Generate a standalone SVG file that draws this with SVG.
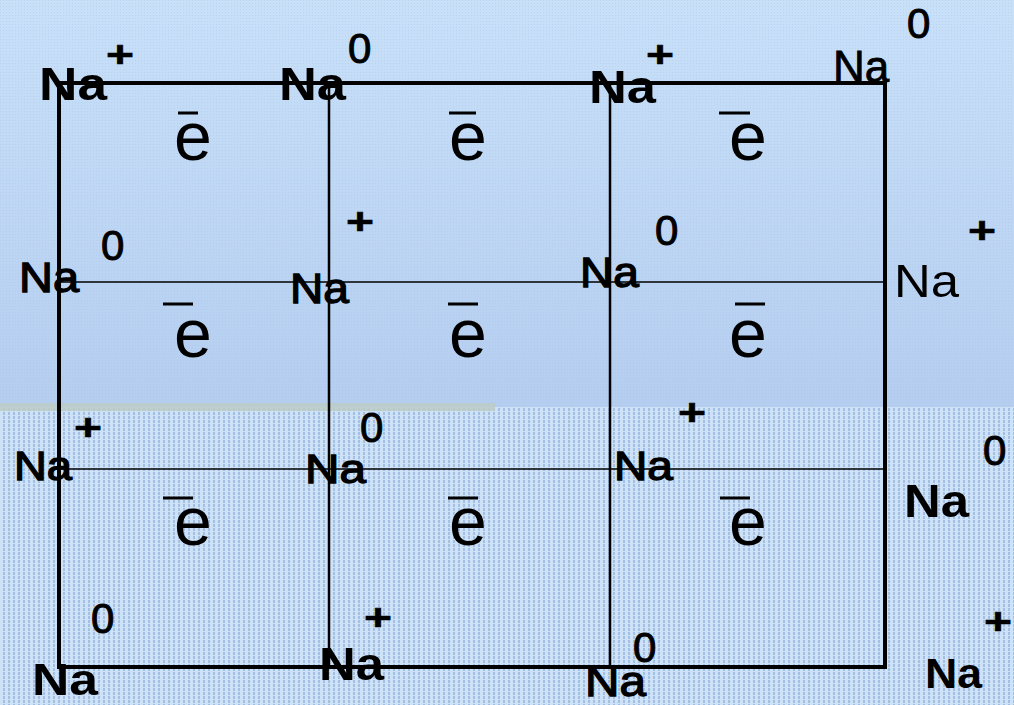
<svg xmlns="http://www.w3.org/2000/svg" width="1014" height="705" viewBox="0 0 1014 705">
<defs>
  <linearGradient id="topg" x1="0" y1="0" x2="0" y2="1">
    <stop offset="0" stop-color="#c8e0f8"/>
    <stop offset="1" stop-color="#b5cef0"/>
  </linearGradient>
  <pattern id="dots" width="3" height="3" patternUnits="userSpaceOnUse">
    <rect x="0" y="0" width="1" height="1" fill="#9fbde6" opacity="0.35"/>
  </pattern>
  <pattern id="stripes" width="5" height="4" patternUnits="userSpaceOnUse">
    <rect x="0" y="0" width="5" height="4" fill="#cde2f6"/>
    <rect x="3" y="0" width="2" height="3" fill="#a3c0e4"/>
  </pattern>
  <style>
    .na{font-family:"Liberation Sans",Arial,sans-serif;fill:#000;}
    .b{font-weight:bold;}
    .m{stroke:#000;stroke-width:1.3;}
    .sup{font-family:"Liberation Sans",Arial,sans-serif;font-size:42px;fill:#000;stroke:#000;stroke-width:1;}
    .plus{font-family:"Liberation Sans",Arial,sans-serif;font-size:37px;font-weight:bold;fill:#000;stroke:#000;stroke-width:0.6;}
    .e{font-family:"Liberation Sans",Arial,sans-serif;font-size:68px;fill:#000;}
    .bar{stroke:#000;stroke-width:3;}
    .thick{stroke:#000;stroke-width:4;fill:none;}
    .mid{stroke:#000;stroke-width:2.5;}
    .thin{stroke:#000;stroke-width:1.5;}
  </style>
</defs>

<g id="background">
  <rect x="0" y="0" width="1014" height="407" fill="url(#topg)"/>
  <rect x="0" y="0" width="1014" height="407" fill="url(#dots)"/>
  <rect x="0" y="407" width="1014" height="298" fill="url(#stripes)"/>
  <rect x="0" y="403" width="495" height="8" fill="#bccbc6" opacity="0.85"/>
</g>

<g id="connectors">
  <rect class="thick" x="59" y="83" width="826" height="584"/>
  <line class="mid" x1="329" y1="83" x2="329" y2="667"/>
  <line class="mid" x1="610" y1="83" x2="610" y2="667"/>
  <line class="thin" x1="59" y1="282" x2="885" y2="282"/>
  <line class="thin" x1="59" y1="469" x2="885" y2="469"/>
</g>

<g id="na1"><text class="na b" x="39" y="100" font-size="46" textLength="68" lengthAdjust="spacingAndGlyphs">Na</text><text class="plus" x="106" y="67" textLength="28" lengthAdjust="spacingAndGlyphs">+</text></g>
<g id="na2"><text class="na b" x="279" y="100" font-size="46" textLength="67" lengthAdjust="spacingAndGlyphs">Na</text><text class="sup" x="348" y="63">0</text></g>
<g id="na3"><text class="na b" x="589" y="103" font-size="46" textLength="67" lengthAdjust="spacingAndGlyphs">Na</text><text class="plus" x="646" y="67" textLength="28" lengthAdjust="spacingAndGlyphs">+</text></g>
<g id="na4"><text class="na" x="833" y="82" font-size="44" stroke="#000" stroke-width="0.8">Na</text><text class="sup" x="907" y="38">0</text></g>

<g id="na5"><text class="na m" x="19" y="292" font-size="42" textLength="60" lengthAdjust="spacingAndGlyphs">Na</text><text class="sup" x="101" y="260">0</text></g>
<g id="na6"><text class="na m" x="290" y="303" font-size="42" textLength="59" lengthAdjust="spacingAndGlyphs">Na</text><text class="plus" x="346" y="234" textLength="28" lengthAdjust="spacingAndGlyphs">+</text></g>
<g id="na7"><text class="na m" x="580" y="287" font-size="42" textLength="59" lengthAdjust="spacingAndGlyphs">Na</text><text class="sup" x="655" y="245" font-size="38">0</text></g>
<g id="na8"><text class="na" x="894" y="297" font-size="47" textLength="65" lengthAdjust="spacingAndGlyphs" fill="#222">Na</text><text class="plus" x="968" y="243" textLength="28" lengthAdjust="spacingAndGlyphs">+</text></g>

<g id="na9"><text class="na m" x="14" y="480" font-size="40" textLength="58" lengthAdjust="spacingAndGlyphs">Na</text><text class="plus" x="74" y="440" textLength="28" lengthAdjust="spacingAndGlyphs">+</text></g>
<g id="na10"><text class="na m" x="305" y="483" font-size="41" textLength="61" lengthAdjust="spacingAndGlyphs">Na</text><text class="sup" x="360" y="442">0</text></g>
<g id="na11"><text class="na m" x="614" y="480" font-size="40" textLength="59" lengthAdjust="spacingAndGlyphs">Na</text><text class="plus" x="678" y="425" textLength="28" lengthAdjust="spacingAndGlyphs">+</text></g>
<g id="na12"><text class="na b" x="904" y="517" font-size="47" textLength="65" lengthAdjust="spacingAndGlyphs">Na</text><text class="sup" x="983" y="465">0</text></g>

<g id="na13"><text class="na b" x="32" y="695" font-size="45" textLength="66" lengthAdjust="spacingAndGlyphs">Na</text><text class="sup" x="91" y="633">0</text></g>
<g id="na14"><text class="na b" x="319" y="680" font-size="46" textLength="65" lengthAdjust="spacingAndGlyphs">Na</text><text class="plus" x="364" y="630" textLength="28" lengthAdjust="spacingAndGlyphs">+</text></g>
<g id="na15"><text class="na m" x="585" y="696" font-size="42" textLength="61" lengthAdjust="spacingAndGlyphs">Na</text><text class="sup" x="633" y="662">0</text></g>
<g id="na16"><text class="na b" x="925" y="688" font-size="42" textLength="57" lengthAdjust="spacingAndGlyphs">Na</text><text class="plus" x="984" y="634" textLength="28" lengthAdjust="spacingAndGlyphs">+</text></g>

<g id="e1"><line class="bar" x1="178" y1="113" x2="198" y2="113"/><text class="e" x="174" y="160">e</text></g>
<g id="e2"><line class="bar" x1="449" y1="113" x2="476" y2="113"/><text class="e" x="449" y="160">e</text></g>
<g id="e3"><line class="bar" x1="719" y1="113" x2="750" y2="113"/><text class="e" x="729" y="160">e</text></g>
<g id="e4"><line class="bar" x1="163" y1="304" x2="193" y2="304"/><text class="e" x="174" y="357">e</text></g>
<g id="e5"><line class="bar" x1="448" y1="304" x2="478" y2="304"/><text class="e" x="449" y="357">e</text></g>
<g id="e6"><line class="bar" x1="735" y1="304" x2="765" y2="304"/><text class="e" x="729" y="357">e</text></g>
<g id="e7"><line class="bar" x1="163" y1="498" x2="193" y2="498"/><text class="e" x="174" y="545">e</text></g>
<g id="e8"><line class="bar" x1="448" y1="498" x2="478" y2="498"/><text class="e" x="449" y="545">e</text></g>
<g id="e9"><line class="bar" x1="720" y1="498" x2="750" y2="498"/><text class="e" x="729" y="545">e</text></g>
</svg>
